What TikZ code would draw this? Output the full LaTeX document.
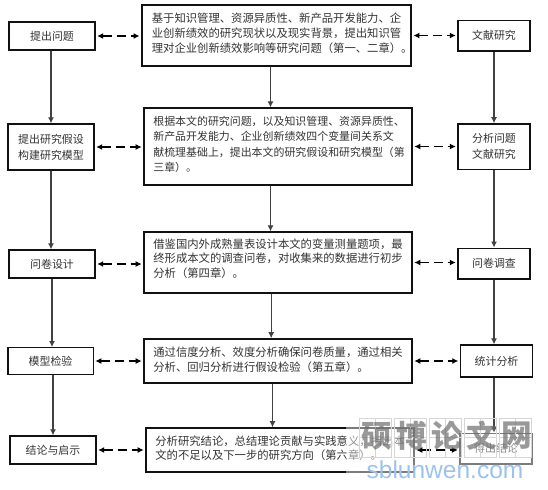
\documentclass[tikz,border=0pt]{standalone}
\usepackage{fontspec}
\setmainfont{Noto Sans CJK SC}
\newfontfamily\urlfont{Liberation Sans}
\usepackage{xcolor}
\usetikzlibrary{arrows.meta,calc}

\definecolor{boxLine}{HTML}{111111}
\definecolor{stampGray}{HTML}{6E6E6E}
\definecolor{stampGrid}{HTML}{D6D6D6}
\definecolor{stampBlue}{HTML}{9CC3EE}

% pushes a block of lines up inside its box
\newcommand\liftText[1]{\rule[-#1]{0pt}{#1}}

\tikzset{
    stageBox/.style={draw=boxLine, line width=1pt, inner sep=0pt, align=center, font=\fontsize{8.2}{12}\selectfont, text=black!80},
    textBox/.style={draw=boxLine, line width=1.2pt, inner sep=0pt, align=left, font=\fontsize{8.5}{11.2}\selectfont, text=black!80},
    flowArrow/.style={-{Latex[length=4.5pt,width=4.5pt]}, boxLine!80, line width=0.8pt},
    linkArrow/.style={{Latex[length=4.5pt,width=4.5pt]}-{Latex[length=4.5pt,width=4.5pt]}, black, line width=1pt, dash pattern=on 7pt off 3.5pt},
}

\begin{document}
\begin{tikzpicture}[x=0.75pt,y=-0.75pt]

\useasboundingbox (0,0) rectangle (548,489);
\fill[white] (0,0) rectangle (548,489);

% left column
\node[stageBox, minimum width=64.5pt, minimum height=21pt] (problem) at (52,36) {提出问题};
\node[stageBox, minimum width=64.5pt, minimum height=34.5pt] (model) at (51,147) {提出研究假设\\构建研究模型};
\node[stageBox, minimum width=64.5pt, minimum height=21pt] (design) at (52,264) {问卷设计};
\node[stageBox, minimum width=64pt, minimum height=20pt] (test) at (50.5,361) {模型检验};
\node[stageBox, minimum width=64.5pt, minimum height=21pt] (finding) at (53,450) {结论与启示};

% middle column
\node[textBox, minimum width=201.5pt, minimum height=45.5pt, text width=187pt, inner xsep=7.5pt] (textA) at (276.5,35.5) {基于知识管理、资源异质性、新产品开发能力、企\\业创新绩效的研究现状以及现实背景，提出知识管\\理对企业创新绩效影响等研究问题（第一、二章）。\liftText{4.5pt}};
\node[textBox, minimum width=201pt, minimum height=57.5pt, text width=187pt, inner xsep=7pt, font=\fontsize{8.2}{11.4}\selectfont] (textB) at (278,146.5) {根据本文的研究问题，以及知识管理、资源异质性、\\新产品开发能力、企业创新绩效四个变量间关系文\\献梳理基础上，提出本文的研究假设和研究模型（第\\三章）。\liftText{4pt}};
\node[textBox, minimum width=201pt, minimum height=45.5pt, text width=187pt, inner xsep=7pt] (textC) at (278,262.5) {借鉴国内外成熟量表设计本文的变量测量题项，最\\终形成本文的调查问卷，对收集来的数据进行初步\\分析（第四章）。\liftText{6.5pt}};
\node[textBox, minimum width=201pt, minimum height=33pt, text width=187pt, inner xsep=6pt] (textD) at (278,361) {通过信度分析、效度分析确保问卷质量，通过相关\\分析、回归分析进行假设检验（第五章）。\liftText{3pt}};
\node[textBox, minimum width=201pt, minimum height=33pt, text width=187pt, inner xsep=7pt] (textE) at (280,450) {分析研究结论，总结理论贡献与实践意义，指出本\\文的不足以及下一步的研究方向（第六章）。\liftText{3.5pt}};

% right column
\node[stageBox, minimum width=54pt, minimum height=23pt] (review) at (494,35.5) {文献研究};
\node[stageBox, minimum width=54pt, minimum height=34pt] (analysis) at (494,146.5) {分析问题\\文献研究};
\node[stageBox, minimum width=54pt, minimum height=23pt] (survey) at (494,263.5) {问卷调查};
\node[stageBox, minimum width=54pt, minimum height=24pt] (stats) at (496.5,361) {统计分析};
\node[stageBox, minimum width=54pt, minimum height=23pt] (result) at (496,448.5) {得出结论};

% washed out part under the site stamp
\fill[white, opacity=0.45] (346,418) rectangle (535,476);

% vertical flow
\coordinate (midFlow) at (270.5,0);
\draw[flowArrow] (problem.south -| model.north) -- (model.north);
\draw[flowArrow] (model.south) -- (design.north -| model.south);
\draw[flowArrow] (design.south) -- (test.north -| design.south);
\draw[flowArrow] (finding.north |- test.south) -- (finding.north);
\draw[flowArrow] (midFlow |- textA.south) -- (midFlow |- textB.north);
\draw[flowArrow] (midFlow |- textB.south) -- (midFlow |- textC.north);
\draw[flowArrow] ([xshift=0.5]midFlow |- textC.south) -- ([xshift=0.5]midFlow |- textD.north);
\draw[flowArrow] ([xshift=1.5]midFlow |- textD.south) -- ([xshift=1.5]midFlow |- textE.north);
\draw[flowArrow] (review.south) -- (analysis.north);
\draw[flowArrow] (analysis.south) -- (survey.north);
\draw[flowArrow] (survey.south) -- (stats.north -| survey.south);
\draw[flowArrow] (review.south |- stats.south) -- (review.south |- result.north);

% dashed links
\foreach \leftName/\midName/\rightName in {problem/textA/review,model/textB/analysis,design/textC/survey,test/textD/stats,finding/textE/result}{
    \draw[linkArrow] ($(\leftName.east)+(1.5,0)$) -- ($(\leftName.east -| \midName.west)+(-1.5,0)$);
    \draw[linkArrow] ($(\midName.east)+(1.5,0)$) -- ($(\midName.east -| \rightName.west)+(-1.5,0)$);
}

% site stamp
\foreach \stampX/\stampText in {359/硕,394/博,429/论,464/文,499/网}{
    \draw[stampGrid, line width=0.5pt] (\stampX,418) rectangle ++(32,39);
    \draw[stampGrid, line width=0.4pt] (\stampX+16,418) -- ++(0,39);
    \draw[stampGrid, line width=0.4pt] (\stampX,437.5) -- ++(32,0);
    \node[text=stampGray, opacity=0.7, font=\fontsize{23}{23}\selectfont\bfseries] (stamp\stampText) at (\stampX+18,436) {\stampText};
}
\node[text=stampBlue, font=\urlfont\fontsize{18.4}{18.4}\selectfont] (stampUrl) at (445,470) {sblunwen.com};

\end{tikzpicture}
\end{document}
